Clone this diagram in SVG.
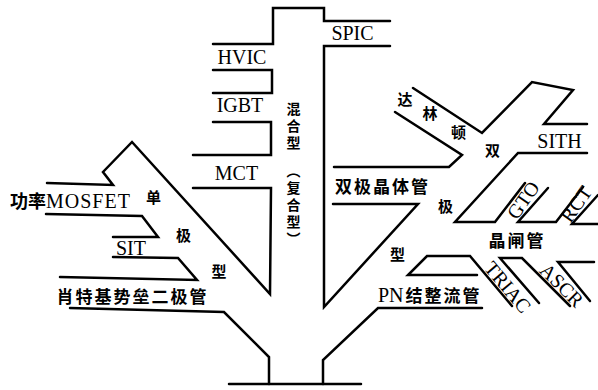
<svg xmlns="http://www.w3.org/2000/svg" width="598" height="390" viewBox="0 0 598 390">
<style>
.ln{fill:none;stroke:#000;stroke-width:2.5;stroke-linejoin:miter;stroke-linecap:round}
.lat{font-family:"Liberation Serif","Times New Roman",serif;font-size:20px;fill:#000}
.cjk{font-family:"Noto Sans CJK SC","Noto Sans CJK JP",sans-serif;font-weight:bold;fill:#000}
.c{text-anchor:middle;dominant-baseline:central}
.m{text-anchor:middle}
.v{writing-mode:vertical-rl;font-size:14px;letter-spacing:3px}
</style>
<rect width="598" height="390" fill="#fff"/>
<g id="connectors">
<path class="ln" d="M229,384 H361"/>
<path class="ln" d="M269,384 V357 L224,312 L70,308"/>
<path class="ln" d="M323,384 V360 L378,308 H482"/>
<path class="ln" d="M60,277 L197,280 L178,258 L113,257"/>
<path class="ln" d="M113,237 L158,237 L142,216 L46,214"/>
<path class="ln" d="M47,183 L113,185 L103,172 L132,142 L270,294 L271,188 L193,188"/>
<path class="ln" d="M193,155 H271 V122 H213"/>
<path class="ln" d="M213,93 H272 V70 H213"/>
<path class="ln" d="M213,44 H273 V8 H324 V21 H390"/>
<path class="ln" d="M390,46 H324 V307 L418,204 H333"/>
<path class="ln" d="M334,167 H449 L462,155 L395,112"/>
<path class="ln" d="M413,88 L482,133 L532,82 L573,90 L544,124 H587"/>
<path class="ln" d="M587,153 H518 L455,222 H495 L525,183"/>
<path class="ln" d="M548,188 L518,222 H556 L583,187"/>
<path class="ln" d="M598,195 L572,224 H598"/>
<path class="ln" d="M477,275 H408 L427,256 H470 L512,306"/>
<path class="ln" d="M539,303 L500,258 H522 L570,306"/>
<path class="ln" d="M590,301 L558,262 H594"/>
</g>
<g id="node-hvic"><text class="lat m" x="242" y="64">HVIC</text></g>
<g id="node-igbt"><text class="lat m" x="240" y="112">IGBT</text></g>
<g id="node-mct"><text class="lat m" x="236.5" y="180">MCT</text></g>
<g id="node-spic"><text class="lat m" x="352.5" y="40">SPIC</text></g>
<g id="node-sith"><text class="lat m" x="559.5" y="148">SITH</text></g>
<g id="node-sit"><text class="lat m" x="131" y="255">SIT</text></g>
<g id="node-mosfet"><text x="10" y="208"><tspan class="cjk" font-size="18">功率</tspan><tspan class="lat" letter-spacing="1">MOSFET</tspan></text></g>
<g id="node-pn"><text x="378" y="302"><tspan class="lat">PN</tspan><tspan class="cjk" font-size="17" letter-spacing="2" dx="2">结整流管</tspan></text></g>
<g id="node-bjt"><text class="cjk c" font-size="17" letter-spacing="2" x="382.5" y="185">双极晶体管</text></g>
<g id="node-thyristor"><text class="cjk c" font-size="17" letter-spacing="2" x="517" y="239">晶闸管</text></g>
<g id="node-schottky"><text class="cjk c" font-size="17" letter-spacing="2" x="132.5" y="295">肖特基势垒二极管</text></g>
<g id="node-unipolar" class="cjk c" font-size="15">
<text x="153.5" y="196.5">单</text>
<text x="183.5" y="234.5">极</text>
<text x="219" y="270.5">型</text>
</g>
<g id="node-bipolar" class="cjk c" font-size="15">
<text x="445.5" y="205.5">极</text>
<text x="397.5" y="253.5">型</text>
</g>
<g id="node-darlington" class="cjk c" font-size="15">
<text x="405" y="98.5">达</text>
<text x="430" y="112.5">林</text>
<text x="458.5" y="131.5">顿</text>
<text x="492.5" y="149.5">双</text>
</g>
<g id="node-hybrid">
<text class="cjk v" x="293.5" y="101.5">混合型</text>
<text class="cjk v" x="293.5" y="164">（复合型）</text>
</g>
<g id="node-gto"><text class="lat c" font-size="18" transform="translate(523,200) rotate(-55)">GTO</text></g>
<g id="node-rct"><text class="lat c" font-size="17" transform="translate(576,204) rotate(-55)">RCT</text></g>
<g id="node-triac"><text class="lat c" font-size="18" transform="translate(508,287) rotate(50)">TRIAC</text></g>
<g id="node-ascr"><text class="lat c" font-size="18" transform="translate(562,285) rotate(45)">ASCR</text></g>
</svg>
